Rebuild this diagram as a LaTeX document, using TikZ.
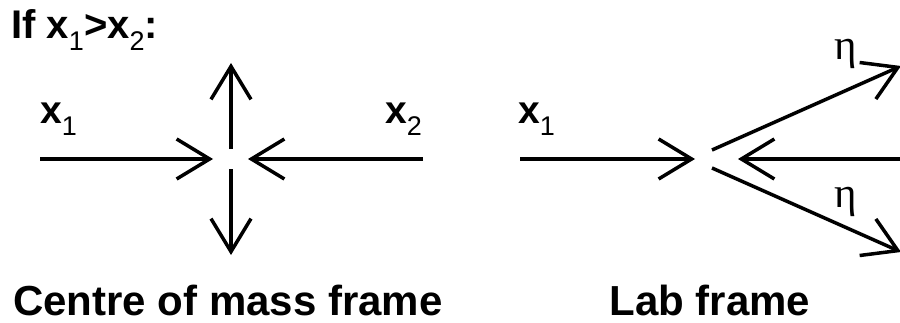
\documentclass[tikz,border=0pt]{standalone}
\usepackage{fontspec}
\setmainfont{Liberation Sans}
\newfontfamily\greekfont{Liberation Serif}
\usetikzlibrary{arrows.meta}
\begin{document}
\begin{tikzpicture}[x=1pt,y=1pt,
  vec/.style={line width=3.5pt,-{Straight Barb[length=33pt,width=40pt]}},
  lbl/.style={inner sep=0pt,font=\fontsize{39}{42}\selectfont\bfseries},
  ttl/.style={inner sep=0pt,font=\fontsize{40}{42}\selectfont\bfseries},
  caption/.style={inner sep=0pt,font=\fontsize{42}{46}\selectfont\bfseries},
  eta/.style={inner sep=0pt,font=\fontsize{43}{46}\selectfont\greekfont}]
\useasboundingbox (0,0) rectangle (900,322);
\clip (0,0) rectangle (900,322);
\newcommand{\sbx}[1]{\raisebox{-12pt}{\fontsize{27}{27}\selectfont\mdseries #1}}
% title
\node[ttl,anchor=base west] (title) at (11,283) {If x\sbx{1}>x\sbx{2}:};
% centre of mass frame
\coordinate (a1) at (40,163);  \coordinate (a1t) at (213,163);
\coordinate (a2) at (423,163); \coordinate (a2t) at (248,163);
\coordinate (up) at (231,173); \coordinate (upt) at (231,259);
\coordinate (dn) at (231,153); \coordinate (dnt) at (231,67);
\draw[vec] (a1) -- (a1t);
\draw[vec] (a2) -- (a2t);
\draw[vec] (up) -- (upt);
\draw[vec] (dn) -- (dnt);
\node[lbl,anchor=base west] (x1a) at (40,199) {x\sbx{1}};
\node[lbl,anchor=base east] (x2a) at (422,199) {x\sbx{2}};
\node[caption,anchor=base] (cm) at (228,7) {Centre of mass frame};
% lab frame
\coordinate (b1) at (520,163);  \coordinate (b1t) at (695,163);
\coordinate (b2) at (910,163);  \coordinate (b2t) at (738,163);
\coordinate (c1) at (712,172);  \coordinate (c1t) at (901,256);
\coordinate (c2) at (712,154);  \coordinate (c2t) at (901,70);
\draw[vec] (b1) -- (b1t);
\draw[vec] (b2) -- (b2t);
\draw[vec] (c1) -- (c1t);
\draw[vec] (c2) -- (c2t);
\node[lbl,anchor=base west] (x1b) at (518,199) {x\sbx{1}};
\node[eta,anchor=base west] (eta1) at (834,262) {η};
\node[eta,anchor=base west] (eta2) at (834,115) {η};
\node[caption,anchor=base] (lab) at (710,7) {Lab frame};
\end{tikzpicture}
\end{document}
